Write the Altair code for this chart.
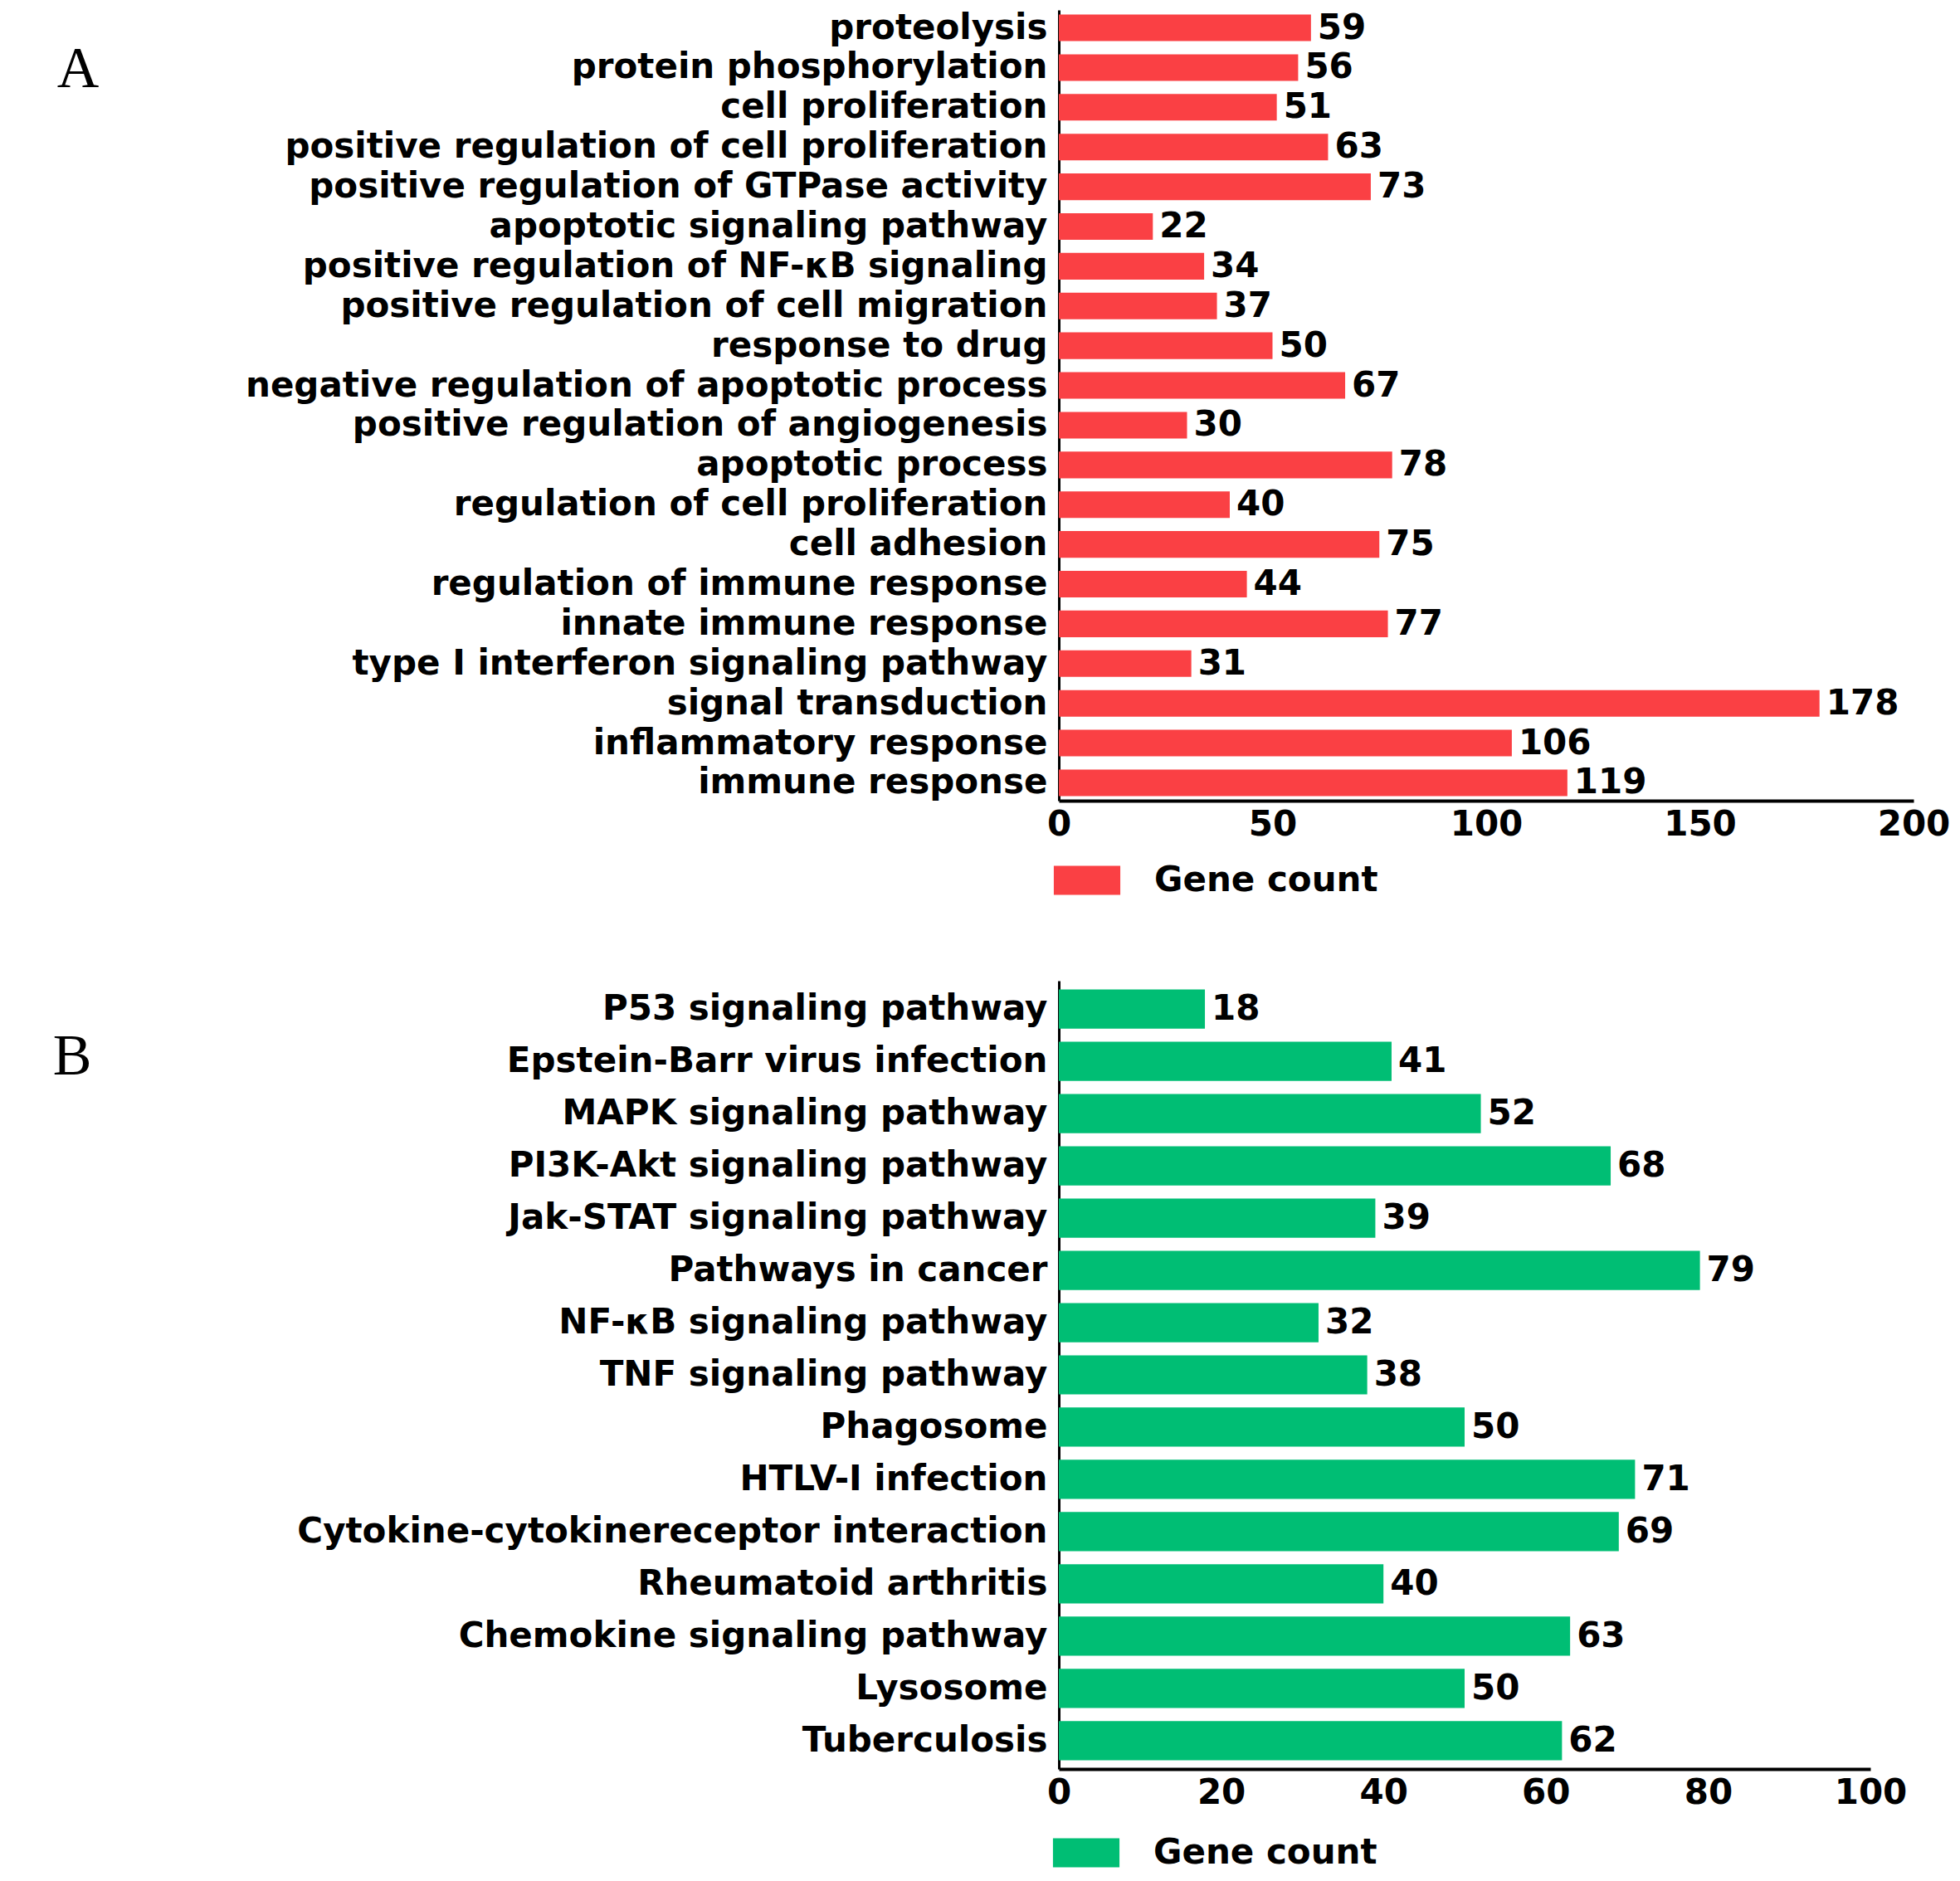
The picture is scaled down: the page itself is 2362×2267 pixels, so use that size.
import altair as alt
import pandas as pd

# ---- data ----
bp_terms = [
    "proteolysis",
    "protein phosphorylation",
    "cell proliferation",
    "positive regulation of cell proliferation",
    "positive regulation of GTPase activity",
    "apoptotic signaling pathway",
    "positive regulation of NF-κB signaling",
    "positive regulation of cell migration",
    "response to drug",
    "negative regulation of apoptotic process",
    "positive regulation of angiogenesis",
    "apoptotic process",
    "regulation of cell proliferation",
    "cell adhesion",
    "regulation of immune response",
    "innate immune response",
    "type I interferon signaling pathway",
    "signal transduction",
    "inflammatory response",
    "immune response",
]
bp_counts = [59, 56, 51, 63, 73, 22, 34, 37, 50, 67, 30, 78, 40, 75, 44, 77, 31, 178, 106, 119]

kegg_terms = [
    "P53 signaling pathway",
    "Epstein-Barr virus infection",
    "MAPK signaling pathway",
    "PI3K-Akt signaling pathway",
    "Jak-STAT signaling pathway",
    "Pathways in cancer",
    "NF-κB signaling pathway",
    "TNF signaling pathway",
    "Phagosome",
    "HTLV-I infection",
    "Cytokine-cytokinereceptor interaction",
    "Rheumatoid arthritis",
    "Chemokine signaling pathway",
    "Lysosome",
    "Tuberculosis",
]
kegg_counts = [18, 41, 52, 68, 39, 79, 32, 38, 50, 71, 69, 40, 63, 50, 62]

top_ticks = [0, 50, 100, 150, 200]
bottom_ticks = [0, 20, 40, 60, 80, 100]
legend_label = "Gene count"

FONT = "DejaVu Sans"
RED = "#FA4044"
GREEN = "#00BE74"
# wide rectangle: 80 x 35 px when size = 35*35
SYMBOL = "M-2.29,-1L2.29,-1L2.29,1L-2.29,1Z"


def panel(terms, counts, color, xmax, ticks, width, height, pad_inner, pad_outer,
          letter, letter_x, letter_y, legend_x, legend_y):
    df = pd.DataFrame({"term": terms, "count": counts, "series": legend_label})
    y_axis = alt.Axis(
        labelFont=FONT, labelFontSize=42, labelFontWeight="bold", labelColor="black",
        labelLimit=0, labelPadding=14, ticks=False, tickSize=0,
        domainColor="black", domainWidth=3, minExtent=1268, maxExtent=1268,
    )
    x_axis = alt.Axis(
        values=ticks, labelFont=FONT, labelFontSize=42, labelFontWeight="bold",
        labelColor="black", labelPadding=8, ticks=False, tickSize=0, grid=False,
        domainColor="black", domainWidth=4, labelFlush=False,
    )
    y = alt.Y("term:N", sort=terms, title=None,
              scale=alt.Scale(paddingInner=pad_inner, paddingOuter=pad_outer),
              axis=y_axis)
    x = alt.X("count:Q", title=None,
              scale=alt.Scale(domain=[0, xmax], nice=False, zero=True), axis=x_axis)
    bars = alt.Chart(df).mark_bar().encode(
        x=x, y=y,
        color=alt.Color(
            "series:N",
            scale=alt.Scale(domain=[legend_label], range=[color]),
            legend=alt.Legend(
                orient="none", legendX=legend_x, legendY=legend_y, title=None,
                symbolType=SYMBOL, symbolSize=1225, symbolStrokeWidth=0,
                labelFont=FONT, labelFontSize=42, labelFontWeight="bold",
                labelColor="black", labelOffset=60, padding=0, labelLimit=0,
            ),
        ),
    )
    labels = alt.Chart(df).mark_text(
        align="left", baseline="middle", dx=8, font=FONT, fontSize=42,
        fontWeight="bold", color="black",
    ).encode(x="count:Q", y=alt.Y("term:N", sort=terms), text="count:Q")
    letter_mark = alt.Chart(pd.DataFrame({"t": [letter]})).mark_text(
        font="Liberation Serif", fontSize=70, align="center", baseline="middle",
        color="black",
    ).encode(text="t:N", x=alt.value(letter_x), y=alt.value(letter_y))
    return alt.layer(bars, labels, letter_mark).properties(width=width, height=height)


top = panel(bp_terms, bp_counts, RED, 200, top_ticks, 1030, 953, 0.33, 0.115,
            "A", -1182, 72, 13, 1028)
bottom = panel(kegg_terms, kegg_counts, GREEN, 100, bottom_ticks, 978, 950, 0.25, 0.165,
               "B", -1189, 92, 12, 1030)

chart = (
    alt.vconcat(top, bottom, spacing=100)
    .resolve_scale(color="independent")
    .configure_view(stroke=None)
    .properties(padding={"left": 0, "top": 4, "right": 0, "bottom": 0})
)

chart.save("out.html", embed_options={"renderer": "svg", "actions": False})
